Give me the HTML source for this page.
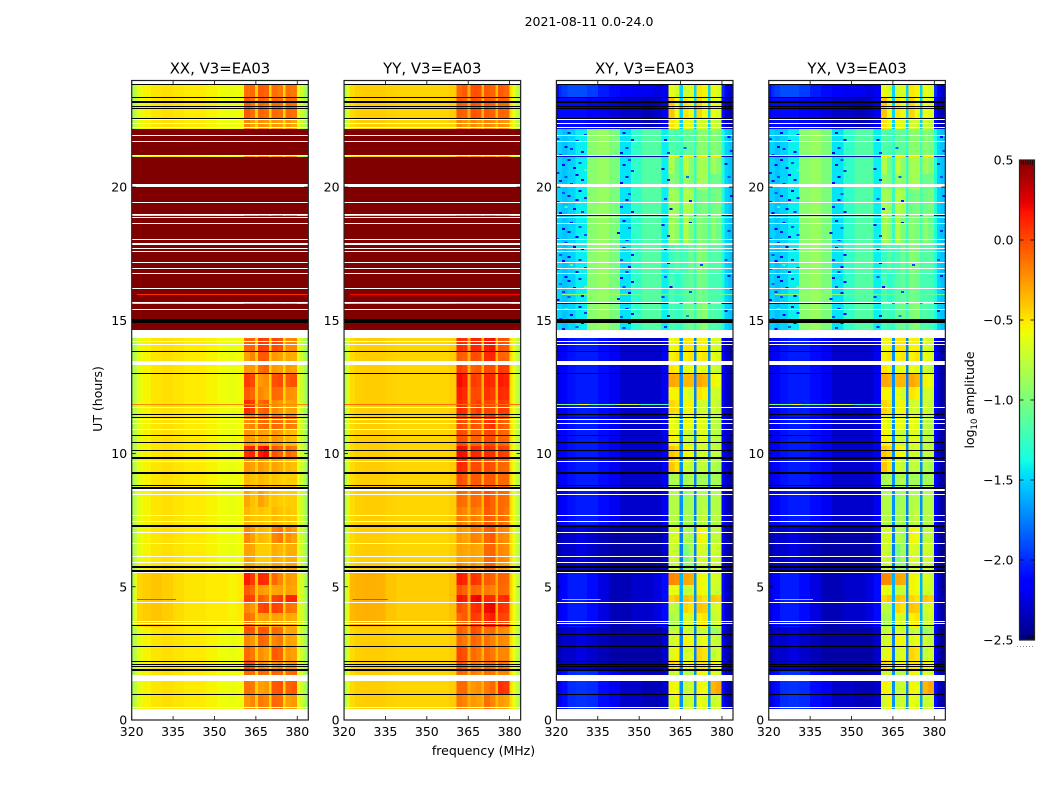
<!DOCTYPE html>
<html>
<head>
<meta charset="utf-8">
<title>2021-08-11 0.0-24.0</title>
<style>
html,body{margin:0;padding:0;background:#fff;}
svg{display:block;font-family:"DejaVu Sans","Liberation Sans",sans-serif;fill:#000;}
</style>
</head>
<body>
<svg id="fig" width="1050" height="800" viewBox="0 0 1050 800" xmlns="http://www.w3.org/2000/svg">
<text x="589" y="26" font-size="12.5" text-anchor="middle">2021-08-11 0.0-24.0</text>
<text x="102" y="399" font-size="12.5" text-anchor="middle" transform="rotate(-90 102 399)">UT (hours)</text>
<text x="483.5" y="755" font-size="12.5" text-anchor="middle">frequency (MHz)</text>
<text x="974" y="400" font-size="12.5" text-anchor="middle" transform="rotate(-90 974 400)">log<tspan font-size="8.5" dy="3">10</tspan><tspan dy="-3"> amplitude</tspan></text>
</svg>
<script>
// ---- axis categories and tick labels ----
const panelTitles = ["XX, V3=EA03", "YY, V3=EA03", "XY, V3=EA03", "YX, V3=EA03"];
const xTicks = [320, 335, 350, 365, 380];
const yTicks = [0, 5, 10, 15, 20];
const colorbarTicks = [-2.5, -2, -1.5, -1, -0.5, 0, 0.5];
const channelEdgesMHz = [320,321,322,324,327,331,335,339,343,347,351,355,358,360.7,362.8,364.7,365.8,367.8,369.8,370.7,372.8,374.9,375.8,377.8,379.9,381,382.3,383.2,384];
const bandEdgesHours = [0.40,0.94,1.46,1.89,2.25,2.75,3.18,3.50,4.00,4.38,4.68,5.06,5.50,5.90,6.60,7.28,8.00,8.80,9.30,9.84,10.30,10.90,11.46,12.00,12.50,13.00,13.46,13.83,14.33,15.63,15.70,16.80,17.90,18.93,18.98,19.90,20.50,21.14,21.20,22.17,22.58,23.34,23.87];

// ---- flagged rows: [hour, duration in hours] ----
const whiteRows = [[23.87,0.13],[22.49,0.05],[22.36,0.05],[22.2,0.05],[21.9,0.05],[21.68,0.05],[21.14,0.05],[20.0,0.12],[19.39,0.05],[18.93,0.05],[18.83,0.05],[18.61,0.05],[18.0,0.05],[17.82,0.07],[17.66,0.05],[17.56,0.05],[17.14,0.05],[16.91,0.05],[16.74,0.05],[16.16,0.05],[15.63,0.05],[15.38,0.05],[14.33,0.3],[14.17,0.05],[14.06,0.05],[13.32,0.14],[11.7,0.05],[11.26,0.05],[11.11,0.05],[10.87,0.05],[9.68,0.05],[8.6,0.08],[8.43,0.05],[7.63,0.05],[7.4,0.05],[7.0,0.05],[6.59,0.05],[6.1,0.05],[5.88,0.05],[5.52,0.05],[4.38,0.05],[3.67,0.05],[3.59,0.05],[1.46,0.23],[0.43,0.05],[0,0.4]];
const blackRows = [[23.83,0.04],[23.32,0.05],[23.16,0.08],[22.99,0.04],[22.94,0.04],[22.56,0.05],[14.91,0.15],[13.81,0.05],[12.99,0.05],[11.44,0.05],[11.34,0.05],[10.63,0.05],[10.4,0.05],[10.1,0.05],[9.8,0.08],[9.24,0.08],[8.77,0.05],[8.68,0.08],[7.24,0.08],[5.71,0.06],[5.57,0.06],[3.5,0.05],[3.16,0.05],[2.71,0.05],[2.18,0.05],[2.07,0.05],[1.96,0.05],[1.85,0.08],[0.94,0.05]];

// ---- spectra: 13 low channels, 3 gaps between sub-bands, 4 upper edge channels ----
const xxRegimes = [
 [-0.85,-0.75,-0.62,-0.55,-0.5,-0.48,-0.5,-0.52,-0.52,-0.55,-0.58,-0.6,-0.58,-0.42,-0.45,-0.45,-0.6,-0.7,-0.82,-0.9],
 [-0.8,-0.62,-0.45,-0.42,-0.4,-0.42,-0.47,-0.5,-0.5,-0.52,-0.52,-0.55,-0.52,-0.4,-0.42,-0.42,-0.55,-0.68,-0.8,-0.88],
 [0.5,0.5,0.5,0.5,0.5,0.5,0.5,0.5,0.5,0.5,0.5,0.5,0.5,0.5,0.5,0.5,0.5,0.5,0.5,0.5]
];
const yyRegimes = [
 [-0.78,-0.62,-0.47,-0.43,-0.42,-0.42,-0.44,-0.45,-0.45,-0.45,-0.45,-0.45,-0.42,-0.33,-0.35,-0.35,-0.48,-0.6,-0.75,-0.85],
 [-0.72,-0.55,-0.36,-0.34,-0.33,-0.34,-0.4,-0.42,-0.42,-0.42,-0.42,-0.42,-0.38,-0.3,-0.32,-0.32,-0.45,-0.58,-0.72,-0.82],
 [0.5,0.5,0.5,0.5,0.5,0.5,0.5,0.5,0.5,0.5,0.5,0.5,0.5,0.5,0.5,0.5,0.5,0.5,0.5,0.5]
];
const xyRegimes = [
 [-2.3,-2.2,-2.1,-2.0,-1.98,-2.0,-2.1,-2.2,-2.3,-2.3,-2.35,-2.35,-2.3,-1.7,-1.7,-1.65,-2.1,-2.3,-2.4,-2.4],
 [-2.4,-2.35,-2.3,-2.3,-2.25,-2.3,-2.35,-2.4,-2.4,-2.4,-2.4,-2.4,-2.3,-1.75,-1.75,-1.7,-2.2,-2.35,-2.45,-2.45],
 [-2.3,-2.2,-2.12,-2.05,-2.05,-2.1,-2.25,-2.35,-2.35,-2.3,-2.3,-2.25,-2.1,-1.6,-1.7,-1.6,-2.1,-2.3,-2.4,-2.4],
 [-2.25,-2.2,-2.15,-2.08,-2.05,-2.05,-2.1,-2.2,-2.3,-2.3,-2.3,-2.3,-2.2,-1.7,-1.75,-1.7,-2.15,-2.3,-2.4,-2.4],
 [-1.5,-1.5,-1.55,-1.5,-1.42,-0.95,-0.9,-1.0,-1.45,-1.28,-1.15,-1.15,-1.42,-1.25,-1.25,-1.2,-1.35,-1.5,-1.55,-1.55],
 [-2.15,-2.1,-2.1,-2.1,-2.1,-2.15,-2.2,-2.25,-2.3,-2.3,-2.35,-2.3,-2.2,-1.5,-1.5,-1.5,-2.1,-2.3,-2.35,-2.4],
 [-2.1,-2.0,-1.95,-1.9,-1.9,-1.95,-2.05,-2.1,-2.15,-2.2,-2.2,-2.25,-2.2,-1.5,-1.5,-1.5,-2.0,-2.2,-2.3,-2.35]
];
const yxRegimes = [
 [-2.3,-2.2,-2.1,-2.0,-1.98,-2.0,-2.1,-2.2,-2.3,-2.3,-2.35,-2.35,-2.3,-1.7,-1.7,-1.65,-2.1,-2.3,-2.4,-2.4],
 [-2.4,-2.35,-2.3,-2.3,-2.25,-2.3,-2.35,-2.4,-2.4,-2.4,-2.4,-2.4,-2.3,-1.75,-1.75,-1.7,-2.2,-2.35,-2.45,-2.45],
 [-2.3,-2.2,-2.12,-2.05,-2.05,-2.1,-2.25,-2.35,-2.35,-2.3,-2.3,-2.25,-2.1,-1.6,-1.7,-1.6,-2.1,-2.3,-2.4,-2.4],
 [-2.25,-2.2,-2.15,-2.08,-2.05,-2.05,-2.1,-2.2,-2.3,-2.3,-2.3,-2.3,-2.2,-1.7,-1.75,-1.7,-2.15,-2.3,-2.4,-2.4],
 [-1.5,-1.5,-1.55,-1.5,-1.42,-0.95,-0.9,-1.0,-1.45,-1.28,-1.15,-1.15,-1.42,-1.25,-1.25,-1.2,-1.35,-1.5,-1.55,-1.55],
 [-2.15,-2.1,-2.1,-2.1,-2.1,-2.15,-2.2,-2.25,-2.3,-2.3,-2.35,-2.3,-2.2,-1.5,-1.5,-1.5,-2.1,-2.3,-2.35,-2.4],
 [-2.1,-2.0,-1.95,-1.9,-1.9,-1.95,-2.05,-2.1,-2.15,-2.2,-2.2,-2.25,-2.2,-1.5,-1.5,-1.5,-2.0,-2.2,-2.3,-2.35]
];

// ---- regime used by each time band, per polarisation ----
const xxBandRegime = [0,0,0,0,0,0,0,1,1,1,1,1,0,0,0,0,0,0,0,0,0,0,0,0,0,0,0,0,2,0,2,2,2,0,2,2,2,0,2,0,0,0];
const yyBandRegime = [0,0,0,0,0,0,0,1,1,1,1,1,0,0,0,0,0,0,0,0,0,0,0,0,0,0,0,0,2,0,2,2,2,0,2,2,2,0,2,0,0,0];
const xyBandRegime = [0,0,0,1,1,1,1,2,2,2,2,2,1,1,1,3,3,3,3,3,3,3,3,3,3,3,3,3,4,1,4,4,4,1,4,4,4,1,4,5,5,6];
const yxBandRegime = [0,0,0,1,1,1,1,2,2,2,2,2,1,1,1,3,3,3,3,3,3,3,3,3,3,3,3,3,4,1,4,4,4,1,4,4,4,1,4,5,5,6];

// ---- sub-band levels per time band (two channels for each of four sub-bands) ----
const xxSubbands = [
[-.25,-.2,-.15,-.2,-.1,-.12,-.28,-.25],[-.12,-.15,-.28,-.25,-.05,-.03,-.08,-.05],[-.1,-.12,-.1,-.12,-.08,-.1,-.12,-.1],
[0,-.05,-.2,-.25,-.25,-.2,-.25,-.25],[-.1,-.15,-.22,-.28,-.05,-.08,-.25,-.28],[-.2,-.25,-.08,-.12,-.2,-.15,-.28,-.3],
[-.02,-.05,-.04,-.05,-.1,-.12,-.3,-.28],[-.12,-.15,-.3,-.28,-.28,-.3,-.3,-.32],[-.2,-.25,0,.03,.02,0,-.12,-.15],
[.05,.02,-.05,-.12,.02,.05,.12,.12],[-.05,-.1,-.25,-.28,-.3,-.28,-.28,-.3],[.15,.05,.1,.08,-.1,-.2,-.25,-.28],
[-.3,-.32,-.38,-.38,-.3,-.32,-.3,-.3],[-.28,-.3,-.42,-.42,-.32,-.35,-.32,-.32],[-.2,-.28,-.35,-.38,-.2,-.15,-.22,-.28],
[-.35,-.4,-.4,-.42,-.35,-.4,-.4,-.42],[-.3,-.38,-.28,-.35,-.4,-.42,-.42,-.42],[-.35,-.38,-.35,-.38,-.4,-.42,-.42,-.42],
[-.25,-.28,-.25,-.3,-.28,-.32,-.35,-.38],[.08,.12,.15,.2,-.02,-.08,-.1,-.15],[-.25,-.28,-.28,-.3,-.25,-.28,-.35,-.38],
[-.22,-.18,-.12,-.1,-.1,-.12,-.15,-.18],[.1,.05,-.1,-.05,-.2,-.25,-.28,-.28],[-.05,-.1,-.2,-.25,-.1,-.12,-.22,-.25],
[.05,0,-.25,-.22,-.02,0,-.05,-.02],[-.25,-.25,-.12,-.08,-.25,-.28,-.25,-.28],[-.28,-.2,-.05,-.05,-.25,-.28,-.3,-.32],
[-.1,-.08,.05,.02,0,-.03,-.2,-.2],[.5,.5,.5,.5,.5,.5,.5,.5],[-.4,-.4,-.4,-.4,-.4,-.4,-.4,-.4],
[.5,.5,.5,.5,.5,.5,.5,.5],[.5,.5,.5,.5,.5,.5,.5,.5],[.5,.5,.5,.5,.5,.5,.5,.5],[-.35,-.35,-.3,-.3,-.25,-.2,-.3,-.3],
[.5,.5,.5,.5,.5,.5,.5,.5],[.5,.5,.5,.5,.5,.5,.5,.5],[.5,.5,.5,.5,.5,.5,.5,.5],[-.25,-.25,-.2,-.2,-.25,-.25,-.25,-.25],
[.5,.5,.5,.5,.5,.5,.5,.5],[-.2,-.28,-.22,-.25,-.25,-.28,-.25,-.3],[-.05,-.12,-.08,-.12,-.1,-.12,-.1,-.12],[-.12,-.1,-.05,-.08,-.12,-.15,-.12,-.15]
];
const yySubbands = [
[-.15,-.2,-.25,-.28,-.12,-.2,-.25,-.3],[-.1,-.1,-.25,-.22,-.15,-.1,.08,.05],[-.1,-.12,-.15,-.2,-.12,-.15,-.2,-.2],
[0,-.05,-.15,-.18,-.1,-.12,-.12,-.15],[.02,-.02,-.1,-.15,-.1,-.15,-.2,-.2],[-.1,-.15,-.08,-.12,-.12,-.18,-.2,-.22],
[-.05,-.1,0,-.05,-.12,-.1,-.2,-.22],[-.1,-.05,.05,.02,.1,.15,.02,0],[0,-.05,.08,.1,.2,.22,.08,.05],
[.18,.15,.2,.22,.12,.1,.08,.1],[-.02,-.08,-.1,-.12,-.15,-.18,-.1,-.12],[.15,.12,.08,.05,-.05,-.08,-.08,-.1],
[-.2,-.25,-.22,-.28,-.1,-.08,-.25,-.28],[-.28,-.3,-.28,-.3,-.1,-.08,-.2,-.22],[-.25,-.28,-.18,-.2,-.08,-.05,-.2,-.22],
[-.15,-.2,-.15,-.2,-.05,-.08,-.1,-.15],[-.1,-.12,-.1,-.12,-.02,-.08,-.1,-.12],[0,-.05,-.05,-.05,-.05,-.05,-.1,-.1],
[.12,.1,0,0,0,-.02,-.08,-.1],[.2,.18,.12,.1,.1,.08,.05,.02],[0,-.02,-.08,-.08,0,0,-.08,-.1],
[0,-.02,-.02,-.05,.05,.08,-.05,-.08],[.12,.08,0,.05,.02,0,.05,.03],[.15,.1,0,0,.08,.05,.1,.08],
[.2,.15,.05,.02,.12,.1,.15,.12],[.05,0,-.08,-.05,0,0,.05,.02],[-.05,-.08,0,-.02,.1,.12,-.08,-.1],
[.1,.08,.12,.1,.15,.18,-.02,-.05],[.5,.5,.5,.5,.5,.5,.5,.5],[-.35,-.35,-.35,-.35,-.35,-.35,-.35,-.35],
[.5,.5,.5,.5,.5,.5,.5,.5],[.5,.5,.5,.5,.5,.5,.5,.5],[.5,.5,.5,.5,.5,.5,.5,.5],[-.3,-.3,-.25,-.25,-.25,-.2,-.3,-.3],
[.5,.5,.5,.5,.5,.5,.5,.5],[.5,.5,.5,.5,.5,.5,.5,.5],[.5,.5,.5,.5,.5,.5,.5,.5],[-.2,-.2,-.2,-.2,-.2,-.2,-.2,-.2],
[.5,.5,.5,.5,.5,.5,.5,.5],[-.2,-.25,-.2,-.25,-.2,-.22,-.22,-.25],[-.05,-.08,-.02,-.05,-.05,-.08,-.08,-.1],[-.1,-.05,-.02,-.02,-.05,-.08,-.05,-.1]
];
const xySubbands = [
[-.7,-.55,-.75,-.7,-.6,-.65,-.72,-.7],[-.55,-.6,-.75,-.7,-.55,-.6,-.35,-.3],[-.75,-.7,-.8,-.8,-.55,-.6,-.65,-.7],
[-.45,-.5,-.6,-.55,-.5,-.5,-.55,-.6],[-.65,-.55,-.7,-.65,-.45,-.5,-.75,-.7],[-.7,-.65,-.55,-.6,-.65,-.6,-.7,-.75],
[-.75,-.7,-.7,-.72,-.75,-.72,-.9,-.85],[-.85,-.8,-.65,-.7,-.55,-.5,-.75,-.7],[-.75,-.8,-.45,-.5,-.4,-.42,-.7,-.65],
[-.45,-.4,-.38,-.42,-.45,-.5,-.4,-.42],[-.6,-.62,-.75,-.72,-.55,-.6,-.7,-.72],[-.2,-.22,-.3,-.32,-.55,-.6,-.65,-.7],
[-.75,-.7,-.95,-.9,-.7,-.7,-.7,-.75],[-.7,-.75,-1,-.85,-.65,-.7,-.7,-.72],[-.7,-.65,-.8,-.85,-.55,-.6,-.75,-.75],
[-.8,-.8,-.85,-.85,-.8,-.75,-.8,-.8],[-.8,-.8,-.9,-.85,-.8,-.8,-.8,-.8],[-.85,-.8,-.85,-.8,-.85,-.85,-.85,-.85],
[-.4,-.5,-.7,-.75,-.75,-.75,-.8,-.85],[-.4,-.45,-.55,-.6,-.7,-.7,-.75,-.75],[-.55,-.6,-.7,-.75,-.65,-.65,-.75,-.8],
[-.6,-.65,-.6,-.62,-.6,-.65,-.75,-.8],[-.45,-.5,-.6,-.55,-.7,-.7,-.7,-.75],[-.55,-.55,-.6,-.7,-.5,-.55,-.7,-.7],
[-.3,-.32,-.35,-.35,-.3,-.35,-.55,-.6],[-.5,-.55,-.65,-.6,-.6,-.65,-.7,-.75],[-.55,-.5,-.55,-.5,-.55,-.5,-.6,-.65],
[-.6,-.55,-.5,-.5,-.55,-.55,-.65,-.7],[-1.2,-1.25,-1.1,-1.05,-1,-.95,-1.15,-1.2],[-.6,-.6,-.55,-.55,-.5,-.5,-.55,-.55],
[-1.2,-1.3,-1.15,-1.1,-1,-1.05,-1.2,-1.2],[-1.25,-1.15,-1.2,-1.05,-.95,-1,-1.15,-1.15],[-.85,-.95,-.8,-1,-.95,-1,-.95,-1.05],
[-.5,-.5,-.5,-.5,-.45,-.45,-.5,-.5],[-.85,-.9,-.8,-.85,-1.05,-1,-1.05,-1],[-.95,-1,-.9,-.95,-.85,-.85,-1.05,-1.05],
[-.8,-1.05,-.75,-.95,-.85,-.85,-.85,-.95],[-.5,-.5,-.5,-.5,-.5,-.5,-.5,-.5],[-1.15,-1.2,-1.1,-1.1,-.95,-.95,-.95,-1],
[-.5,-.6,-.6,-.65,-.7,-.7,-.7,-.75],[-.4,-.6,-.5,-.6,-.45,-.6,-.6,-.65],[-.6,-.7,-.7,-.65,-.5,-.55,-.6,-.65]
];
const yxSubbands = [
[-.7,-.55,-.75,-.7,-.6,-.65,-.72,-.7],[-.55,-.6,-.75,-.7,-.55,-.6,-.35,-.3],[-.75,-.7,-.8,-.8,-.55,-.6,-.65,-.7],
[-.45,-.5,-.6,-.55,-.5,-.5,-.55,-.6],[-.65,-.55,-.7,-.65,-.45,-.5,-.75,-.7],[-.7,-.65,-.55,-.6,-.65,-.6,-.7,-.75],
[-.75,-.7,-.7,-.72,-.75,-.72,-.9,-.85],[-.85,-.8,-.65,-.7,-.55,-.5,-.75,-.7],[-.75,-.8,-.45,-.5,-.4,-.42,-.7,-.65],
[-.45,-.4,-.38,-.42,-.45,-.5,-.4,-.42],[-.6,-.62,-.75,-.72,-.55,-.6,-.7,-.72],[-.2,-.22,-.3,-.32,-.55,-.6,-.65,-.7],
[-.75,-.7,-.95,-.9,-.7,-.7,-.7,-.75],[-.7,-.75,-1,-.85,-.65,-.7,-.7,-.72],[-.7,-.65,-.8,-.85,-.55,-.6,-.75,-.75],
[-.8,-.8,-.85,-.85,-.8,-.75,-.8,-.8],[-.8,-.8,-.9,-.85,-.8,-.8,-.8,-.8],[-.85,-.8,-.85,-.8,-.85,-.85,-.85,-.85],
[-.4,-.5,-.7,-.75,-.75,-.75,-.8,-.85],[-.4,-.45,-.55,-.6,-.7,-.7,-.75,-.75],[-.55,-.6,-.7,-.75,-.65,-.65,-.75,-.8],
[-.6,-.65,-.6,-.62,-.6,-.65,-.75,-.8],[-.45,-.5,-.6,-.55,-.7,-.7,-.7,-.75],[-.55,-.55,-.6,-.7,-.5,-.55,-.7,-.7],
[-.3,-.32,-.35,-.35,-.3,-.35,-.55,-.6],[-.5,-.55,-.65,-.6,-.6,-.65,-.7,-.75],[-.55,-.5,-.55,-.5,-.55,-.5,-.6,-.65],
[-.6,-.55,-.5,-.5,-.55,-.55,-.65,-.7],[-1.2,-1.25,-1.1,-1.05,-1,-.95,-1.15,-1.2],[-.6,-.6,-.55,-.55,-.5,-.5,-.55,-.55],
[-1.2,-1.3,-1.15,-1.1,-1,-1.05,-1.2,-1.2],[-1.25,-1.15,-1.2,-1.05,-.95,-1,-1.15,-1.15],[-.85,-.95,-.8,-1,-.95,-1,-.95,-1.05],
[-.5,-.5,-.5,-.5,-.45,-.45,-.5,-.5],[-.85,-.9,-.8,-.85,-1.05,-1,-1.05,-1],[-.95,-1,-.9,-.95,-.85,-.85,-1.05,-1.05],
[-.8,-1.05,-.75,-.95,-.85,-.85,-.85,-.95],[-.5,-.5,-.5,-.5,-.5,-.5,-.5,-.5],[-1.15,-1.2,-1.1,-1.1,-.95,-.95,-.95,-1],
[-.5,-.6,-.6,-.65,-.7,-.7,-.7,-.75],[-.4,-.6,-.5,-.6,-.45,-.6,-.6,-.65],[-.6,-.7,-.7,-.65,-.5,-.55,-.6,-.65]
];

// ---- narrow streaks: [hour, start MHz, end MHz, log amplitude] ----
const xxStreaks = [[11.87,320,384,-0.2],[6.14,320,384,0.42],[4.55,322,336,0.05],[16.0,322,384,0.1]];
const yyStreaks = [[11.87,320,384,-0.12],[6.14,320,384,0.25],[4.55,323,336,0.05],[16.0,322,384,0.2]];
const xyStreaks = [[11.87,320,328,-1.0],[11.87,328,332,-0.6],[11.87,332,342,-1.1],[11.87,342,350,-0.7],[11.87,350,361,-1.2],[6.14,320,345,-0.7],[6.14,345,361,-1.0],[6.14,361,384,-0.6],[4.55,322,336,-0.3],[16.0,322,346,-0.9],[16.0,346,384,-1.1]];
const yxStreaks = [[11.87,320,328,-1.0],[11.87,328,332,-0.6],[11.87,332,342,-1.1],[11.87,342,350,-0.7],[11.87,350,361,-1.2],[6.14,320,345,-0.7],[6.14,345,361,-1.0],[6.14,361,384,-0.6],[4.55,322,336,-0.3],[16.0,322,346,-0.9],[16.0,346,384,-1.1]];

// ---- isolated noisy samples in the 14.6-22.2 h cross-hand data: [hour, MHz, log amplitude] ----
const xySpeckles = [
[14.72,322,-2.1],[14.8,327,-1.9],[14.95,329,-2.2],[15.1,321,-1.9],[15.22,325,-2.2],[15.3,330,-2.0],[15.45,323,-1.2],[15.52,328,-2.1],[15.8,320,-2.1],[15.9,324,-1.9],
[15.95,329,-2.2],[16.1,322,-2.0],[16.25,326,-2.2],[16.3,330,-1.1],[16.4,321,-1.8],[16.5,324,-2.2],[16.6,328,-2.0],[16.68,323,-2.1],[16.85,327,-2.2],[16.95,320,-1.9],
[17.0,330,-2.0],[17.1,325,-1.2],[17.25,322,-2.2],[17.3,328,-2.0],[17.42,324,-2.2],[17.5,321,-1.9],[17.7,329,-2.1],[17.78,326,-2.2],[17.95,323,-2.0],[18.08,320,-1.9],
[18.15,327,-2.2],[18.25,330,-1.9],[18.35,324,-2.1],[18.45,322,-2.2],[18.55,328,-1.9],[18.7,325,-2.1],[19.05,321,-2.2],[19.12,329,-2.0],[19.2,326,-2.2],[19.3,323,-1.2],
[19.48,320,-2.1],[19.55,327,-2.2],[19.62,330,-2.0],[19.72,324,-2.1],[19.82,322,-1.9],[19.9,328,-2.2],[20.15,325,-2.0],[20.25,321,-2.2],[20.32,329,-2.1],[20.4,323,-1.9],
[20.5,327,-2.2],[20.58,320,-2.0],[20.66,330,-1.2],[20.75,326,-2.2],[20.85,322,-2.1],[20.95,328,-1.9],[21.05,324,-2.2],[21.25,321,-2.0],[21.35,329,-2.2],[21.45,325,-2.0],
[21.55,323,-2.1],[21.75,327,-2.2],[21.85,320,-1.9],[21.98,330,-2.0],[22.06,324,-2.2],
[14.75,344,-2.0],[14.95,346,-2.2],[15.15,343,-1.9],[15.28,347,-2.1],[15.48,345,-2.2],[15.85,342,-2.0],[16.08,346,-2.2],[16.28,344,-1.9],[16.46,347,-2.1],[16.62,343,-2.2],
[16.85,345,-2.0],[17.05,346,-2.2],[17.3,343,-1.9],[17.48,347,-2.1],[17.75,344,-2.2],[18.05,345,-2.0],[18.3,342,-2.2],[18.5,346,-1.9],[18.75,344,-2.1],[19.1,347,-2.2],
[19.3,343,-2.0],[19.55,345,-2.2],[19.78,346,-1.9],[20.2,343,-2.1],[20.42,345,-2.2],[20.65,347,-2.0],[20.85,344,-2.2],[21.05,346,-1.9],[21.3,343,-2.2],[21.5,345,-2.0],
[21.8,347,-2.1],[22.05,344,-2.2],
[14.8,359,-2.0],[15.2,360,-2.1],[15.9,358,-2.0],[16.3,361,-2.2],[16.65,359,-1.9],[17.2,360,-2.1],[17.7,359,-2.2],[18.2,360,-2.0],[18.6,358,-2.1],[19.2,361,-2.2],
[19.6,359,-1.9],[20.3,360,-2.1],[20.7,358,-2.2],[21.3,360,-2.0],[21.8,359,-2.1],
[15.0,382,-2.0],[15.4,381,-2.2],[16.2,383,-2.0],[16.7,382,-2.1],[17.3,381,-1.9],[17.9,383,-2.2],[18.4,382,-2.0],[19.0,381,-2.1],[19.7,383,-2.2],[20.4,382,-1.9],
[20.9,381,-2.1],[21.4,383,-2.0],[21.9,382,-2.2],
[19.5,368,-2.0],[20.4,367,-1.8],[18.7,368,-2.2],[17.1,372,-1.9],[16.1,368,-1.9],[21.5,366,-1.8],[15.2,367,-1.7]
];
const yxSpeckles = xySpeckles;
const xxSpeckles = [];
const yySpeckles = [];

const panelRegimes = [xxRegimes, yyRegimes, xyRegimes, yxRegimes];
const panelBandRegime = [xxBandRegime, yyBandRegime, xyBandRegime, yxBandRegime];
const panelSubbands = [xxSubbands, yySubbands, xySubbands, yxSubbands];
const panelStreaks = [xxStreaks, yyStreaks, xyStreaks, yxStreaks];
const panelSpeckles = [xxSpeckles, yySpeckles, xySpeckles, yxSpeckles];
const panelKeys = ["xx", "yy", "xy", "yx"];

// ---- axes ----
const SVGNS = "http://www.w3.org/2000/svg";
const fig = document.getElementById("fig");
const plotLeft = 131.7, plotStep = 212.35, plotWidth = 176.6, plotTop = 80.5, plotBottom = 720;
const freqMin = 320, freqMax = 384, hourMin = 0, hourMax = 24;
const ampMin = -2.5, ampMax = 0.5, barLeft = 1019.5, barRight = 1034.5, barTop = 160, barBottom = 640;

function xScale(panel, mhz) {
  return plotLeft + plotStep * panel + (mhz - freqMin) / (freqMax - freqMin) * plotWidth;
}
function yScale(hour) {
  return plotBottom - (hour - hourMin) / (hourMax - hourMin) * (plotBottom - plotTop);
}
function hourHeight(dur) {
  return dur / (hourMax - hourMin) * (plotBottom - plotTop);
}
function barScale(v) {
  return barBottom - (v - ampMin) / (ampMax - ampMin) * (barBottom - barTop);
}
function ramp(n, pts) {
  for (let i = 1; i < pts.length; i++) {
    if (n <= pts[i][0]) {
      const a = pts[i - 1], b = pts[i];
      return a[1] + (b[1] - a[1]) * (n - a[0]) / (b[0] - a[0]);
    }
  }
  return pts[pts.length - 1][1];
}
function jet(v) {
  const n = Math.max(0, Math.min(1, (v - ampMin) / (ampMax - ampMin)));
  const r = ramp(n, [[0,0],[0.35,0],[0.66,1],[0.89,1],[1,0.5]]);
  const g = ramp(n, [[0,0],[0.125,0],[0.375,1],[0.64,1],[0.91,0],[1,0]]);
  const b = ramp(n, [[0,0.5],[0.11,1],[0.34,1],[0.65,0],[1,0]]);
  return "rgb(" + Math.round(r * 255) + "," + Math.round(g * 255) + "," + Math.round(b * 255) + ")";
}
function cellValue(panel, band, col) {
  const spec = panelRegimes[panel][panelBandRegime[panel][band]];
  const sub = panelSubbands[panel][band];
  const row = spec.slice(0, 13).concat([sub[0], sub[1], spec[13], sub[2], sub[3], spec[14], sub[4], sub[5], spec[15], sub[6], sub[7]], spec.slice(16));
  return row[col];
}
function make(parent, tag, attrs) {
  const el = document.createElementNS(SVGNS, tag);
  for (const k in attrs) el.setAttribute(k, attrs[k]);
  parent.appendChild(el);
  return el;
}
function rowRect(parent, panel, hour, dur, fill) {
  const top = Math.round(yScale(hour + dur));
  const h = Math.max(1, Math.round(hourHeight(dur)));
  return make(parent, "rect", {x: xScale(panel, freqMin), y: top, width: plotWidth, height: h, fill: fill, "shape-rendering": "crispEdges"});
}

panelTitles.forEach(function (title, p) {
  const g = make(fig, "g", {});
  
  

  const bands = bandEdgesHours.length - 1;
  const cols = channelEdgesMHz.length - 1;
  for (let b = 0; b < bands; b++) {
    const top = Math.round(yScale(bandEdgesHours[b + 1]));
    const bot = Math.round(yScale(bandEdgesHours[b]));
    for (let c = 0; c < cols; c++) {
      const x0 = xScale(p, channelEdgesMHz[c]);
      const x1 = xScale(p, channelEdgesMHz[c + 1]);
      const cell = make(g, "rect", {x: x0.toFixed(2), y: top, width: (x1 - x0 + 0.3).toFixed(2), height: Math.max(1, bot - top), fill: jet(cellValue(p, b, c)), "shape-rendering": "crispEdges"});
      
      
    }
  }

  panelSpeckles[p].forEach(function (s) {
    const speck = make(g, "rect", {x: xScale(p, s[1]).toFixed(2), y: Math.round(yScale(s[0])), width: 3, height: 2, fill: jet(s[2]), "shape-rendering": "crispEdges"});
    
    
  });

  panelStreaks[p].forEach(function (s) {
    const x0 = xScale(p, s[1]);
    const x1 = xScale(p, s[2]);
    const streak = make(g, "rect", {x: x0.toFixed(2), y: Math.round(yScale(s[0])), width: (x1 - x0).toFixed(2), height: 1, fill: jet(s[3]), "shape-rendering": "crispEdges"});
    
    
  });

  whiteRows.forEach(function (r) {
    const row = rowRect(g, p, r[0], r[1], "#fff");
    
    
  });
  blackRows.forEach(function (r) {
    const row = rowRect(g, p, r[0], r[1], "#000");
    
    
  });

  xTicks.forEach(function (t) {
    const x = xScale(p, t);
    const tickBottom = make(g, "line", {x1: x, x2: x, y1: plotBottom, y2: plotBottom - 4, stroke: "#000", "stroke-width": 0.8});
    
    
    const tickTop = make(g, "line", {x1: x, x2: x, y1: plotTop, y2: plotTop + 4, stroke: "#000", "stroke-width": 0.8});
    
    
    const label = make(g, "text", {x: x, y: 736, "font-size": 12.5, "text-anchor": "middle"});
    
    
    label.textContent = String(t);
  });
  yTicks.forEach(function (t) {
    const y = yScale(t);
    const left = xScale(p, freqMin);
    const right = xScale(p, freqMax);
    const tickLeft = make(g, "line", {x1: left, x2: left + 4, y1: y, y2: y, stroke: "#000", "stroke-width": 0.8});
    
    
    const tickRight = make(g, "line", {x1: right, x2: right - 4, y1: y, y2: y, stroke: "#000", "stroke-width": 0.8});
    
    
    const label = make(g, "text", {x: left - 4.5, y: y + 4.5, "font-size": 12.5, "text-anchor": "end"});
    
    
    label.textContent = String(t);
  });

  const frame = make(g, "rect", {x: xScale(p, freqMin), y: plotTop, width: plotWidth, height: plotBottom - plotTop, fill: "none", stroke: "#222", "stroke-width": 1.2});
  
  

  const t = make(g, "text", {x: xScale(p, freqMin) + plotWidth / 2, y: 73.5, "font-size": 14.9, "text-anchor": "middle"});
  
  
  t.textContent = title;
});

// ---- colour bar ----
const bar = make(fig, "g", {});


for (let y = barTop; y < barBottom; y++) {
  const v = ampMax - (y + 0.5 - barTop) / (barBottom - barTop) * (ampMax - ampMin);
  const step = make(bar, "rect", {x: barLeft, y: y, width: barRight - barLeft, height: 1, fill: jet(v), "shape-rendering": "crispEdges"});
  
  
}
colorbarTicks.forEach(function (t) {
  const y = barScale(t);
  const tl = make(bar, "line", {x1: barLeft, x2: barLeft + 4, y1: y, y2: y, stroke: "#000", "stroke-width": 0.8});
  
  
  const tr = make(bar, "line", {x1: barRight, x2: barRight - 4, y1: y, y2: y, stroke: "#000", "stroke-width": 0.8});
  
  
  const label = make(bar, "text", {x: 1013.5, y: y + 4.5, "font-size": 12.5, "text-anchor": "end"});
  
  
  label.textContent = String(t.toFixed(1)).replace("-", "\u2212");
});
for (let i = 0; i < 6; i++) {
  const x = barLeft + 2 + i * 2.2;
  const minorTop = make(bar, "line", {x1: x, x2: x, y1: barTop, y2: barTop + 5, stroke: "#000", "stroke-width": 0.6});
  
  
  const minorBottom = make(bar, "line", {x1: x, x2: x, y1: barBottom, y2: barBottom - 5, stroke: "#000", "stroke-width": 0.6});
  
  
}
const barFrame = make(bar, "rect", {x: barLeft, y: barTop, width: barRight - barLeft, height: barBottom - barTop, fill: "none", stroke: "#222", "stroke-width": 1.2});


const barDots = make(bar, "line", {x1: 1017, x2: 1035, y1: 646.5, y2: 646.5, stroke: "#888", "stroke-width": 1, "stroke-dasharray": "1 2"});


</script>
</body>
</html>
